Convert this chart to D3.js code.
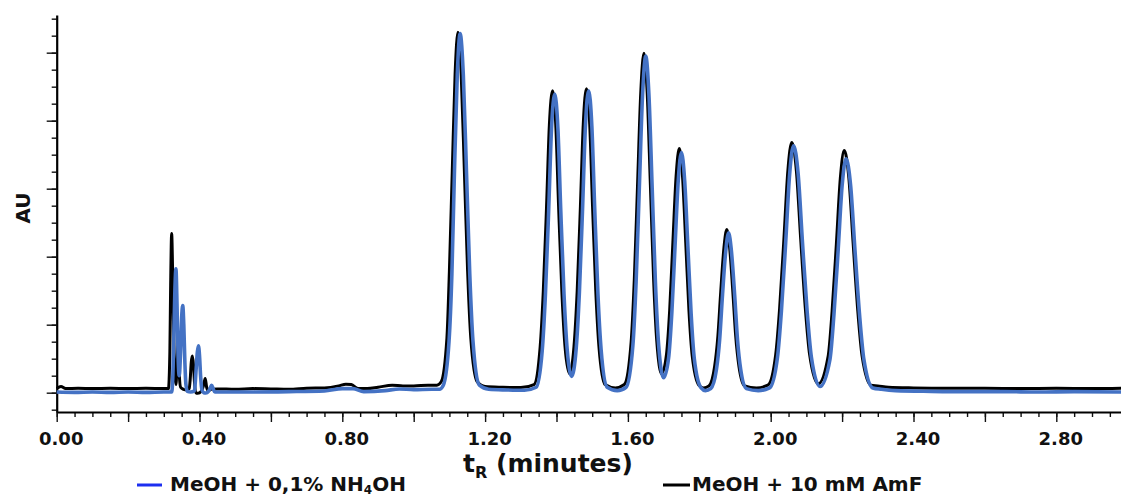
<!DOCTYPE html>
<html>
<head>
<meta charset="utf-8">
<script src="https://cdn.jsdelivr.net/npm/d3@7.9.0/dist/d3.min.js"></script>
<style>
  body { margin: 0; background: #fff; }
  svg { display: block; font-family: "DejaVu Sans", sans-serif; font-weight: bold; }
</style>
</head>
<body>
<svg id="chart" width="1121" height="496"></svg>
<script>
// chromatogram traces: [time (min), signal (mAU)]
const amfTrace = [
  [0.000,6],[0.012,9],[0.025,6],[0.060,6.5],[0.100,6],[0.150,6.5],[0.200,6],[0.250,6.5],[0.300,6],[0.313,6],
  [0.317,60],[0.319,150],[0.322,234],[0.325,170],[0.328,80],[0.331,25],[0.334,12],[0.337,40],[0.340,72],[0.343,30],[0.347,8],
  [0.355,5],[0.365,4],[0.371,6],[0.374,20],[0.377,45],[0.380,54],[0.383,42],[0.386,15],[0.390,0],[0.395,-1],
  [0.405,2],[0.411,10],[0.416,21],[0.420,8],[0.425,3],[0.432,5],
  [0.45,5.5],[0.50,5],[0.55,6],[0.60,5.5],[0.65,5],[0.70,6.5],[0.75,7],[0.79,10],[0.81,12.5],[0.825,12],[0.845,6],
  [0.87,6],[0.90,8],[0.94,11],[0.97,10],[1.00,10],[1.04,11],[1.065,11],
  [1.077,16],[1.093,80],[1.100,179],[1.108,325],[1.116,469],[1.124,530],[1.133,469],[1.142,325],[1.151,179],[1.160,80],[1.178,16],
  [1.20,9],[1.25,8],[1.30,7.5],
  [1.337,12],[1.354,66],[1.363,149],[1.372,272],[1.380,393],[1.389,444],[1.398,393],[1.406,272],[1.415,149],[1.424,67],[1.4365,28],
  [1.449,68],[1.458,150],[1.467,274],[1.475,395],[1.484,447],[1.493,395],[1.501,274],[1.510,150],[1.519,67],[1.536,12],[1.565,7],
  [1.590,12],[1.609,74],[1.618,167],[1.627,305],[1.636,441],[1.645,499],[1.654,441],[1.663,305],[1.672,167],[1.681,75],[1.6945,28],
  [1.708,56],[1.717,121],[1.726,221],[1.735,318],[1.744,359],[1.753,318],[1.762,221],[1.771,121],[1.780,55],[1.799,11],[1.812,7],
  [1.827,10],[1.843,39],[1.852,83],[1.860,148],[1.869,213],[1.877,240],[1.885,213],[1.894,148],[1.902,83],[1.911,39],[1.927,10],[1.960,7],
  [1.992,11],[2.014,56],[2.025,124],[2.037,226],[2.048,326],[2.059,368],[2.072,326],[2.084,226],[2.097,124],[2.109,56],[2.133,13],
  [2.161,54],[2.172,120],[2.184,219],[2.195,315],[2.206,356],[2.219,315],[2.231,219],[2.244,120],[2.256,54],[2.281,11],
  [2.30,10],[2.33,8],[2.40,7],[2.50,6.5],[2.60,6.5],[2.70,6],[2.80,6.5],[2.90,6],[2.985,6.5]
];

const nh4ohTrace = [
  [0.000,1],[0.050,0.5],[0.100,1],[0.150,0.5],[0.200,1],[0.250,0.5],[0.300,1],[0.322,1],
  [0.325,20],[0.328,80],[0.331,150],[0.334,182],[0.337,130],[0.340,55],[0.343,25],[0.347,60],[0.350,110],[0.353,128],
  [0.356,100],[0.359,45],[0.362,12],[0.366,2],
  [0.375,1],[0.386,3],[0.390,30],[0.394,60],[0.397,69],[0.400,55],[0.403,25],[0.407,4],[0.412,0],[0.418,-0.5],
  [0.425,2],[0.431,8],[0.434,11],[0.438,6],[0.443,1],
  [0.46,1],[0.55,1],[0.65,1.5],[0.75,2.5],[0.80,6],[0.83,6],[0.86,1.5],[0.92,3],[0.96,5.5],[1.00,4.5],[1.05,5],[1.072,5],
  [1.083,11],[1.099,76],[1.107,175],[1.114,322],[1.122,467],[1.130,528],[1.139,467],[1.148,322],[1.157,175],[1.166,76],[1.184,11],
  [1.21,5],[1.26,4],[1.31,3.5],
  [1.343,8],[1.360,62],[1.369,145],[1.378,267],[1.386,388],[1.395,439],[1.404,388],[1.412,267],[1.421,145],[1.430,63],[1.4425,24],
  [1.455,64],[1.464,146],[1.473,271],[1.481,392],[1.490,444],[1.499,392],[1.507,271],[1.516,146],[1.525,63],[1.542,8],[1.570,3],
  [1.595,8],[1.614,70],[1.623,163],[1.632,301],[1.641,437],[1.650,495],[1.659,437],[1.668,301],[1.677,163],[1.686,71],[1.700,22],
  [1.714,51],[1.723,117],[1.732,215],[1.741,312],[1.750,353],[1.759,312],[1.768,215],[1.777,117],[1.786,50],[1.805,7],[1.817,3],
  [1.832,6],[1.848,34],[1.857,78],[1.865,144],[1.874,208],[1.882,235],[1.890,208],[1.899,144],[1.907,78],[1.916,34],[1.932,6],[1.965,3],
  [1.997,7],[2.019,52],[2.030,120],[2.042,221],[2.053,321],[2.064,363],[2.077,321],[2.089,221],[2.102,120],[2.114,52],[2.138,9],
  [2.166,49],[2.177,114],[2.189,210],[2.200,304],[2.211,344],[2.224,304],[2.236,210],[2.249,114],[2.261,49],[2.286,7],
  [2.31,5],[2.35,3],[2.45,2],[2.55,1.5],[2.65,1.5],[2.75,1],[2.85,1.5],[2.985,1]
];

const xLabelTicks = [0, 0.4, 0.8, 1.2, 1.6, 2.0, 2.4, 2.8];
const xTickLabels = ["0.00", "0.40", "0.80", "1.20", "1.60", "2.00", "2.40", "2.80"];
const xMajorTicks = [0, 0.2, 0.4, 0.6, 0.8, 1.0, 1.2, 1.4, 1.6, 1.8, 2.0, 2.2, 2.4, 2.6, 2.8];
const yMajorTicks = [0, 100, 200, 300, 400, 500];
const seriesNames = ["MeOH + 0,1% NH", "MeOH + 10 mM AmF"];

const svg = d3.select("#chart");
svg.append("rect").attr("width", 1121).attr("height", 496).attr("fill", "#fff");

const x = d3.scaleLinear().domain([0, 2.985]).range([56.7, 56.7 + 357 * 2.985]);
const y = d3.scaleLinear().domain([-28.4, 555.4]).range([412, 15]);

// minor ticks first, majors on top
svg.append("g")
  .attr("transform", "translate(0,412)")
  .call(d3.axisBottom(x).tickValues(d3.range(0, 60).map(i => i * 0.05)).tickSize(5).tickFormat(""))
  .call(g => g.select(".domain").remove());

const xAxis = svg.append("g")
  .attr("transform", "translate(0,412)")
  .call(d3.axisBottom(x).tickValues(xMajorTicks).tickSize(10).tickSizeOuter(0)
    .tickFormat(d => {
      const i = xLabelTicks.findIndex(v => Math.abs(v - d) < 1e-6);
      return i >= 0 ? xTickLabels[i] : "";
    }));
xAxis.selectAll("text")
  .attr("y", 20).attr("dx", 4)
  .style("font-size", "18px").style("font-family", "DejaVu Sans").style("font-weight", "bold").attr("fill", "#111");

svg.append("g")
  .attr("transform", "translate(56.7,0)")
  .call(d3.axisLeft(y).tickValues(d3.range(-1, 23).map(i => i * 25)).tickSize(5).tickFormat(""))
  .call(g => g.select(".domain").remove());

svg.append("g")
  .attr("transform", "translate(56.7,0)")
  .call(d3.axisLeft(y).tickValues(yMajorTicks).tickSize(10).tickSizeOuter(0).tickFormat(""));

svg.selectAll(".domain").attr("stroke", "#000").attr("stroke-width", 2.2);
svg.selectAll(".tick line").attr("stroke", "#111").attr("stroke-width", 1.4);

// traces
const line = d3.line()
  .x(d => x(d[0]))
  .y(d => y(d[1]))
  .curve(d3.curveMonotoneX);

svg.append("path")
  .datum(amfTrace)
  .attr("d", line)
  .attr("fill", "none")
  .attr("stroke", "#000")
  .attr("stroke-width", 3)
  .attr("stroke-linejoin", "round");

svg.append("path")
  .datum(nh4ohTrace)
  .attr("d", line)
  .attr("fill", "none")
  .attr("stroke", "#4472c4")
  .attr("stroke-width", 3.6)
  .attr("stroke-linejoin", "round");

// axis titles
svg.append("text")
  .attr("transform", "translate(30,208) rotate(-90)")
  .attr("text-anchor", "middle")
  .style("font-size", "20px")
  .attr("fill", "#111")
  .text("AU");

const xTitle = svg.append("text")
  .attr("x", 463).attr("y", 472)
  .style("font-size", "25px")
  .attr("fill", "#111");
xTitle.append("tspan").text("t");
xTitle.append("tspan").attr("dy", 6).style("font-size", "16px").text("R");
xTitle.append("tspan").attr("dy", -6).text(" (minutes)");

// legend
svg.append("line").attr("x1", 137).attr("x2", 162).attr("y1", 485).attr("y2", 485)
  .attr("stroke", "#1c2ff0").attr("stroke-width", 3);
const leg1 = svg.append("text").attr("x", 170).attr("y", 491).style("font-size", "20px").attr("fill", "#111");
leg1.append("tspan").text(seriesNames[0]);
leg1.append("tspan").attr("dy", 2.5).style("font-size", "12px").text("4");
leg1.append("tspan").attr("dy", -2.5).text("OH");

svg.append("line").attr("x1", 663).attr("x2", 690).attr("y1", 485).attr("y2", 485)
  .attr("stroke", "#000").attr("stroke-width", 3);
svg.append("text").attr("x", 692).attr("y", 491).style("font-size", "20px").attr("fill", "#111")
  .text(seriesNames[1]);
</script>
</body>
</html>
